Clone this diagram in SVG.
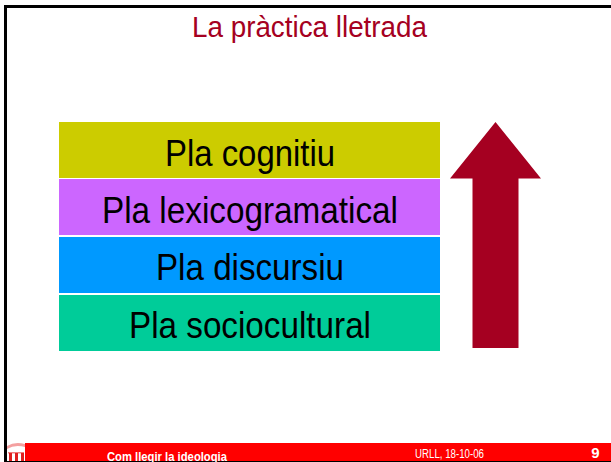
<svg xmlns="http://www.w3.org/2000/svg" width="611" height="462" viewBox="0 0 611 462">
<style>
text{font-family:"Liberation Sans",Arial,sans-serif;text-anchor:middle}
.pla{font-size:36px;fill:#000}
.w{fill:#fff}
</style>
<rect width="611" height="462" fill="#fff"/>
<path d="M5.500 462V6.500H611" fill="none" stroke="#000" stroke-width="3"/>
<rect x="25" y="443" width="586" height="18" fill="#f00"/>
<rect x="5" y="461" width="606" height="1" fill="#000"/>
<g id="logo">
<path d="M7 446Q15 441 25 444V447Q15 444 7 449Z" fill="#f4a0a0"/>
<path d="M8 452h16v1.500H8z" fill="#f08080"/>
<path d="M9 453h3v8H9zM15 453h3v8h-3zM21 453h3v8h-3z" fill="#e02020"/>
</g>
<text x="309.500" y="37" font-size="29" fill="#a50021" textLength="235" lengthAdjust="spacingAndGlyphs">La pràctica lletrada</text>
<g id="cognitiu"><rect x="59" y="122" width="381" height="56" fill="#cccc00"/><text class="pla" x="250" y="166" textLength="170" lengthAdjust="spacingAndGlyphs">Pla cognitiu</text></g>
<g id="lexicogramatical"><rect x="59" y="179" width="381" height="56" fill="#cc66ff"/><text class="pla" x="250" y="223" textLength="296" lengthAdjust="spacingAndGlyphs">Pla lexicogramatical</text></g>
<g id="discursiu"><rect x="59" y="237" width="381" height="56" fill="#0099ff"/><text class="pla" x="250" y="280" textLength="188" lengthAdjust="spacingAndGlyphs">Pla discursiu</text></g>
<g id="sociocultural"><rect x="59" y="295" width="381" height="56" fill="#00cc99"/><text class="pla" x="250" y="338" textLength="242" lengthAdjust="spacingAndGlyphs">Pla sociocultural</text></g>
<g id="connectors"><path d="M495.500 122L541 178.500H518.500V348H472.500V178.500H450Z" fill="#a50021"/></g>
<text class="w" x="167" y="461" font-size="12" font-weight="bold" textLength="120" lengthAdjust="spacingAndGlyphs">Com llegir la ideologia</text>
<text class="w" x="449.500" y="458" font-size="12" textLength="69" lengthAdjust="spacingAndGlyphs">URLL, 18-10-06</text>
<text class="w" x="595.500" y="458" font-size="15" font-weight="bold">9</text>
</svg>
